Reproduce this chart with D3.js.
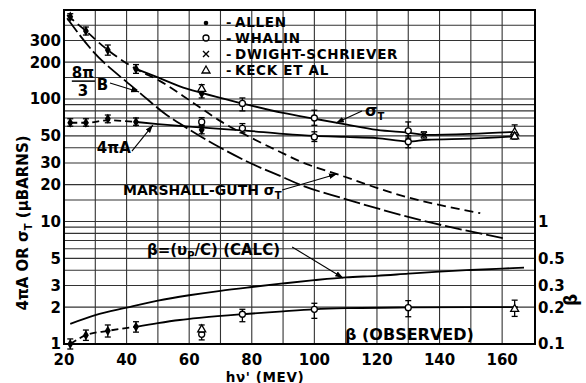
<!DOCTYPE html>
<html><head><meta charset="utf-8">
<script src="https://cdn.jsdelivr.net/npm/d3@7"></script>
<style>
html,body{margin:0;padding:0;background:#fff;}
svg{display:block;font-family:"DejaVu Sans",sans-serif;font-weight:bold;}
</style></head><body>
<svg id="c" width="586" height="383"></svg>
<script>
// ---------------- data ----------------
const xTicks = [20,40,60,80,100,120,140,160];
const xGrid = [30,40,50,60,70,80,90,100,110,120,130,140,150,160];
const yTicks = [1,2,3,5,10,20,30,50,100,200,300];
const yGrid = [2,3,4,5,6,7,8,9,10,15,20,30,40,50,60,70,80,90,100,150,200,300,400];
const betaTicks = [0.1,0.2,0.3,0.5,1];

// points: [energy MeV, value, low, high]
const allenSigma = [[22,470,444,497],[27,359,333,387],[34,251,228,276],[43,176,162,191],[64,111,102,119]];
const allenA     = [[22,64,60,69],[27,64,60,69],[34,69,64,74],[43,65,61,70],[64,56,52,60]];
const allenBeta  = [[22,0.100,0.091,0.110],[27,0.118,0.107,0.130],[34,0.128,0.114,0.143],[43,0.138,0.125,0.152]];
const whalinSigma = [[77,92,80,102],[100,70,61,81],[130,55,48,65]];
const whalinA     = [[64,65,61,70.5],[77,57.6,53,63],[100,49,45,54],[130,44.8,40,50]];
const whalinBeta  = [[64,0.120,0.108,0.127],[77,0.175,0.152,0.192],[100,0.192,0.162,0.215],[130,0.198,0.167,0.226]];
const dwightSigma = [[135,51,48,54]];
const keckSigma = [[64,122,115,131],[164,54,50,61.5]];
const keckA     = [[164,50,47,53]];
const keckBeta  = [[64,0.133,0.125,0.143],[164,0.195,0.168,0.228]];

// curves: [energy MeV, value]
const sigmaTCurve = [[43,176],[50,150],[57,127],[64,112],[77,92],[90,77],[100,69],[110,62],[120,56],[130,53],[136,51],[150,52],[164,54]];
const marshallGuth = [[21,485],[27,359],[34,251],[43,176],[50.7,140],[60.8,95],[70,66],[80,48],[90,36],[95.4,31],[108,24],[127,16.5],[153,11.7]];
const eightPiB = [[21,456],[29.4,243],[40,138],[44.3,112],[52.8,74],[57,63],[70,40],[80,29.6],[90,23],[95.4,20],[109,15.5],[138,9.7],[160.4,7.3]];
const fourPiADash = [[22,64],[27,64],[34,67],[43,65]];
const fourPiACurve = [[43,65],[50,62.5],[60,59.5],[70,57],[77,55.5],[90,52],[100,50],[110,49],[120,48],[130,45],[136,46.5],[150,47.5],[164,49.5]];
const betaObsDash = [[22,0.100],[27,0.118],[34,0.128],[43,0.138]];
const betaObsCurve = [[43,0.138],[50,0.148],[57,0.157],[64,0.164],[77,0.175],[90,0.185],[100,0.192],[110,0.196],[130,0.199],[150,0.200],[165,0.200]];
const betaCalcCurve = [[22,0.146],[30,0.172],[40,0.198],[50,0.226],[60,0.25],[70,0.272],[80,0.292],[90,0.312],[100,0.332],[110,0.35],[120,0.36],[130,0.375],[140,0.39],[150,0.402],[160,0.413],[167,0.42]];

const legendItems = ["ALLEN","WHALIN","DWIGHT-SCHRIEVER","KECK ET AL"];

// ---------------- layout ----------------
const L=64, R=535, T=10, B=344;
const svg = d3.select("#c");
const x = d3.scaleLinear().domain([20,170.5]).range([L,R]);
const y = d3.scaleLog().domain([1,533]).range([B,T]);
const yb = d3.scaleLog().domain([0.1,53.3]).range([B,T]);

svg.append("defs").append("marker").attr("id","ah").attr("viewBox","0 0 10 10")
  .attr("refX",10).attr("refY",5).attr("markerWidth",8).attr("markerHeight",8)
  .attr("markerUnits","userSpaceOnUse").attr("orient","auto")
  .append("path").attr("d","M0,1.5L10,5L0,8.5Z").attr("fill","#000");

// grid
const g = svg.append("g");
g.selectAll(".vx").data(xGrid).join("line")
  .attr("x1",d=>x(d)).attr("x2",d=>x(d)).attr("y1",T).attr("y2",B)
  .attr("stroke","#333").attr("stroke-width",1.1);
g.selectAll(".hy").data(yGrid).join("line")
  .attr("x1",L).attr("x2",R).attr("y1",d=>y(d)).attr("y2",d=>y(d))
  .attr("stroke","#333").attr("stroke-width",1.1);
svg.append("rect").attr("x",L).attr("y",T).attr("width",R-L).attr("height",B-T)
  .attr("fill","none").attr("stroke","#000").attr("stroke-width",2);

// tick labels
svg.selectAll(".yl").data(yTicks).join("text")
  .attr("x",L-3).attr("y",d=>y(d)).attr("dy","0.36em").attr("text-anchor","end")
  .attr("font-size",15).text(d=>d);
svg.selectAll(".xl").data(xTicks).join("text")
  .attr("x",d=>x(d)).attr("y",365).attr("text-anchor","middle")
  .attr("font-size",15).text(d=>d);
svg.selectAll(".bl").data(betaTicks).join("text")
  .attr("x",R+3).attr("y",d=>yb(d)).attr("dy","0.36em").attr("text-anchor","start")
  .attr("font-size",15).text(d=>d);

// axis titles
const yt = svg.append("text").attr("transform","translate(28,223) rotate(-90)")
  .attr("text-anchor","middle").attr("font-size",15);
yt.append("tspan").text("4πA OR σ");
yt.append("tspan").attr("font-size",10).attr("dy",4).text("T");
yt.append("tspan").attr("dy",-4).text(" (μBARNS)");
svg.append("text").attr("x",265).attr("y",381.5).attr("text-anchor","middle").attr("font-size",13.5)
  .attr("letter-spacing",0.6).text("hν' (MEV)");
svg.append("text").attr("transform","translate(577,300) rotate(-90)")
  .attr("text-anchor","middle").attr("font-size",17).text("β");

// curves
const line = (ys)=>d3.line().x(d=>x(d[0])).y(d=>ys(d[1])).curve(d3.curveMonotoneX);
function curve(data, ys, dash, w){
  svg.append("path").datum(data).attr("d",line(ys)).attr("fill","none")
    .attr("stroke","#000").attr("stroke-width",w||1.8)
    .attr("stroke-dasharray",dash||null);
}
curve(sigmaTCurve, y);
curve(marshallGuth, y, "9,5");
curve(eightPiB, y, "17,4");
curve(fourPiADash, y, "7,4");
curve(fourPiACurve, y);
curve(betaObsDash, yb, "7,4");
curve(betaObsCurve, yb);
curve(betaCalcCurve, yb);

// points with error bars
function points(data, ys, kind){
  const gg = svg.append("g");
  data.forEach(d=>{
    const px=x(d[0]), py=ys(d[1]), lo=ys(d[2]), hi=ys(d[3]);
    gg.append("line").attr("x1",px).attr("x2",px).attr("y1",lo).attr("y2",hi).attr("stroke","#000").attr("stroke-width",1.3);
    [lo,hi].forEach(v=>gg.append("line").attr("x1",px-3).attr("x2",px+3).attr("y1",v).attr("y2",v).attr("stroke","#000").attr("stroke-width",1.3));
    drawSym(gg, kind, px, py);
  });
}
function drawSym(gg, kind, px, py){
  if(kind==="allen"){
    gg.append("path").attr("d",d3.symbol(d3.symbolDiamond,30)()).attr("transform",`translate(${px},${py})`).attr("fill","#000");
  } else if(kind==="whalin"){
    gg.append("circle").attr("cx",px).attr("cy",py).attr("r",3).attr("fill","#fff").attr("stroke","#000").attr("stroke-width",1.3);
  } else if(kind==="dwight"){
    gg.append("path").attr("d",`M${px-3},${py-3}L${px+3},${py+3}M${px-3},${py+3}L${px+3},${py-3}`).attr("stroke","#000").attr("stroke-width",1.4);
  } else {
    gg.append("path").attr("d",`M${px},${py-4}L${px+4},${py+3}L${px-4},${py+3}Z`).attr("fill","#fff").attr("stroke","#000").attr("stroke-width",1.3);
  }
}
points(allenSigma,y,"allen"); points(allenA,y,"allen"); points(allenBeta,yb,"allen");
points(whalinSigma,y,"whalin"); points(whalinA,y,"whalin"); points(whalinBeta,yb,"whalin");
points(dwightSigma,y,"dwight");
points(keckSigma,y,"keck"); points(keckA,y,"keck"); points(keckBeta,yb,"keck");

// legend
const kinds=["allen","whalin","dwight","keck"];
const legY=[22,38,54,70];
legendItems.forEach((t,i)=>{
  const lg=svg.append("g");
  if(kinds[i]==="allen") lg.append("circle").attr("cx",206).attr("cy",legY[i]+1).attr("r",2.3).attr("fill","#000");
  else drawSym(lg,kinds[i],206,legY[i]);
  lg.append("text").attr("x",226).attr("y",legY[i]+5).attr("font-size",13).text("-");
  lg.append("text").attr("x",235).attr("y",legY[i]+5).attr("font-size",13.5)
    .attr("letter-spacing",0.7).text(t);
});

// annotations (data coordinates)
function arrow(e1,v1,e2,v2){
  svg.append("line").attr("x1",x(e1)).attr("y1",y(v1)).attr("x2",x(e2)).attr("y2",y(v2))
    .attr("stroke","#000").attr("stroke-width",1.1).attr("marker-end","url(#ah)");
}
// 8π/3 B
svg.append("text").attr("x",x(26.07)).attr("y",y(148)).attr("text-anchor","middle").attr("font-size",15).text("8π");
svg.append("line").attr("x1",x(22.5)).attr("x2",x(29.9)).attr("y1",y(140)).attr("y2",y(140)).attr("stroke","#000").attr("stroke-width",1.5);
svg.append("text").attr("x",x(26.07)).attr("y",y(106)).attr("text-anchor","middle").attr("font-size",15).text("3");
svg.append("text").attr("x",x(30.5)).attr("y",y(118)).attr("font-size",15).text("B");
arrow(34.7,135,44,114);
// 4πA
svg.append("text").attr("x",x(30.5)).attr("y",y(36.3)).attr("font-size",15).text("4πA");
arrow(41.7,37.6,48.4,61.3);
// σT
const st=svg.append("text").attr("x",x(116.2)).attr("y",y(72.6)).attr("font-size",16);
st.append("tspan").text("σ"); st.append("tspan").attr("font-size",10).attr("dy",4).text("T");
arrow(115.2,79.8,106.9,63.7);
// Marshall-Guth
const mg=svg.append("text").attr("x",x(38.85)).attr("y",y(16.5)).attr("font-size",14);
mg.append("tspan").text("MARSHALL-GUTH σ"); mg.append("tspan").attr("font-size",10).attr("dy",4).text("T");
arrow(89.7,18.1,107.2,24.4);
// beta calc
const bc=svg.append("text").attr("x",x(46.5)).attr("y",y(5.33)).attr("font-size",15);
bc.append("tspan").text("β=(υ"); bc.append("tspan").attr("font-size",10).attr("dy",4).text("P");
bc.append("tspan").attr("dy",-4).text("/C) (CALC)");
arrow(92.9,6.19,109.2,3.46);
// beta observed
svg.append("text").attr("x",x(109.8)).attr("y",y(1.078)).attr("font-size",16).text("β (OBSERVED)");
</script>
</body></html>
